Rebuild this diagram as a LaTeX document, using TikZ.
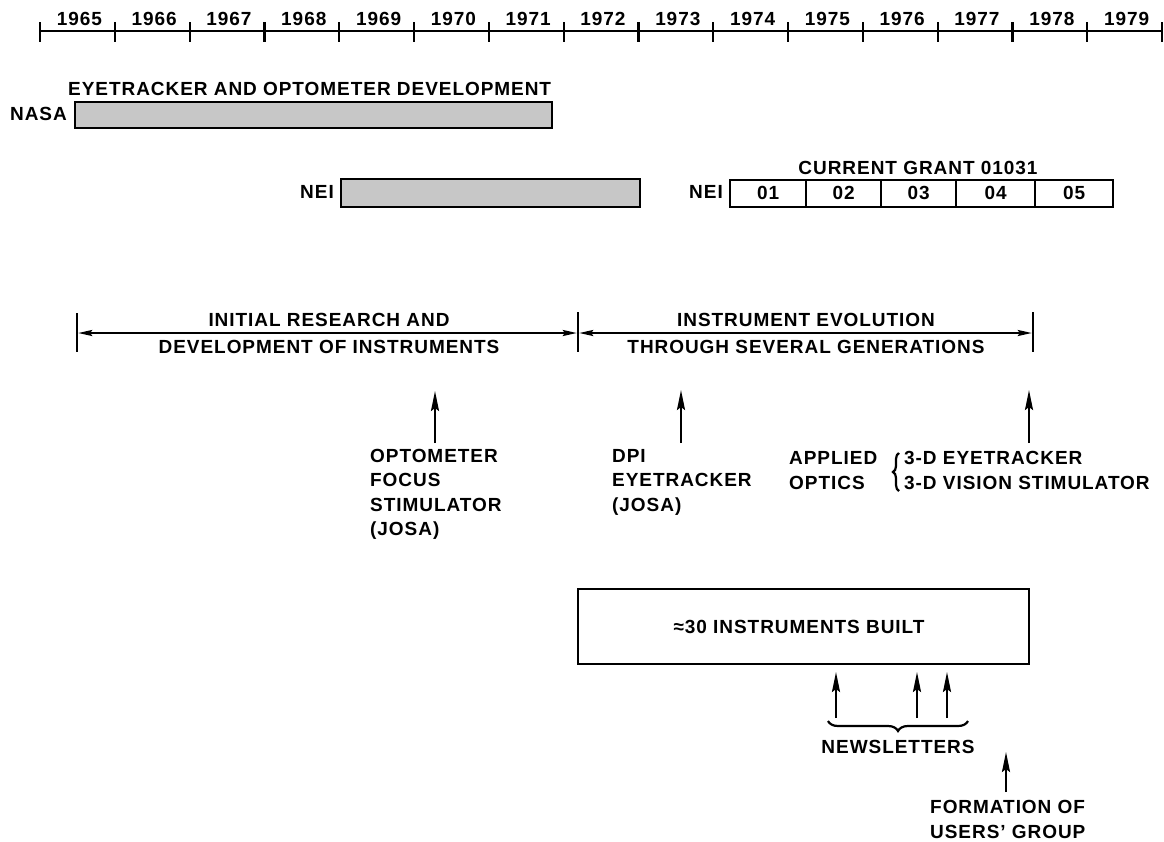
\documentclass[tikz,border=0pt]{standalone}
\usepackage{fontspec}
\setmainfont[LetterSpace=5]{Liberation Sans}
\usetikzlibrary{arrows.meta,decorations.pathreplacing}
\begin{document}
\begin{tikzpicture}[x=1pt,y=-1pt,
  every node/.style={font=\fontsize{19}{24.5}\selectfont\bfseries, inner sep=0pt},
  lbl/.style={anchor=base},
  lblw/.style={anchor=base west, align=left},
  lble/.style={anchor=base east},
  axis/.style={line width=2.6pt},
  tickmark/.style={line width=2.2pt},
  bar/.style={draw, line width=2.2pt, fill=black!22, minimum height=26pt, anchor=north west},
  cell/.style={draw, line width=2.2pt, minimum height=27pt, anchor=north west},
  bigbox/.style={draw, line width=2.4pt, anchor=north west},
  rangeline/.style={line width=2pt, {Stealth[length=14pt,width=6pt,inset=2pt]}-{Stealth[length=14pt,width=6pt,inset=2pt]}},
  uparrow/.style={line width=2.2pt, -{Stealth[length=20pt,width=8pt,inset=3pt]}},
  bracedec/.style={line width=2.2pt, decorate, decoration={brace, amplitude=#1}}
]
\useasboundingbox (0,0) rectangle (1164,841);
% timeline
\coordinate (tl0) at (40,31);
\coordinate (tl1) at (1162,31);
\draw[axis] (tl0) -- (tl1);
\foreach \i in {0,...,15} {
  \coordinate (tk\i) at ({40+74.8*\i},31);
  \draw[tickmark] ([yshift=9pt]tk\i) -- ([yshift=-11pt]tk\i);
}
\foreach \i/\yr in {0/1965,1/1966,2/1967,3/1968,4/1969,5/1970,6/1971,7/1972,8/1973,9/1974,10/1975,11/1976,12/1977,13/1978,14/1979} {
  \node[lbl] (yr\yr) at ({40+74.8*\i+37.4+2},25) {\yr};
}
% NASA bar
\node[lblw] (nasatitle) at (68,95) {EYETRACKER AND OPTOMETER DEVELOPMENT};
\node[lble] (nasalbl) at (67,120) {NASA};
\node[bar, minimum width=477pt] (nasabar) at (74,101) {};
% NEI bar
\node[lble] (nei1lbl) at (334,198) {NEI};
\node[bar, minimum width=299pt, minimum height=28pt] (nei1bar) at (340,178) {};
% current grant
\node[lbl] (granttitle) at (918,174) {CURRENT GRANT 01031};
\node[lble] (nei2lbl) at (723,198) {NEI};
\node[cell, minimum width=76pt] (c01) at (729,179) {};
\node[cell, minimum width=75pt] (c02) at (805,179) {};
\node[cell, minimum width=75pt] (c03) at (880,179) {};
\node[cell, minimum width=79pt] (c04) at (955,179) {};
\node[cell, minimum width=78pt] (c05) at (1034,179) {};
\node[lbl] (n01) at ([yshift=-20pt]c01.north) {01};
\node[lbl] (n02) at ([yshift=-20pt]c02.north) {02};
\node[lbl] (n03) at ([yshift=-20pt]c03.north) {03};
\node[lbl] (n04) at ([yshift=-20pt]c04.north) {04};
\node[lbl] (n05) at ([yshift=-20pt]c05.north) {05};
% ranges
\coordinate (ra) at (77,333);
\coordinate (rb) at (578,333);
\coordinate (rc) at (1033,333);
\draw[tickmark] (77,313) -- (77,352);
\draw[tickmark] (578,312) -- (578,352);
\draw[tickmark] (1033,312) -- (1033,352);
\draw[rangeline] ([xshift=1.2pt]ra) -- ([xshift=-1.2pt]rb);
\draw[rangeline] ([xshift=1.2pt]rb) -- ([xshift=-1.2pt]rc);
\node[lbl] (r1a) at (329,326) {INITIAL RESEARCH AND};
\node[lbl] (r1b) at (329,353) {DEVELOPMENT OF INSTRUMENTS};
\node[lbl] (r2a) at (806,326) {INSTRUMENT EVOLUTION};
\node[lbl] (r2b) at (806,353) {THROUGH SEVERAL GENERATIONS};
% publications (base = last line's baseline)
\node[lblw] (opto) at (370,535.5) {OPTOMETER\\FOCUS\\STIMULATOR\\(JOSA)};
\coordinate (optoA) at (435,443);
\coordinate (optoB) at (435,391);
\draw[uparrow] (optoA) -- (optoB);
\node[lblw] (dpi) at (612,511) {DPI\\EYETRACKER\\(JOSA)};
\coordinate (dpiA) at (681,443);
\coordinate (dpiB) at (681,390);
\draw[uparrow] (dpiA) -- (dpiB);
\node[lblw] (appl) at (789,489) {APPLIED\\OPTICS};
\node[lblw] (threed) at (904,489) {3-D EYETRACKER\\3-D VISION STIMULATOR};
\coordinate (brA) at (899,491);
\coordinate (brB) at (899,453);
\draw[bracedec=6pt] (brA) -- (brB);
\coordinate (tdA) at (1029,443);
\coordinate (tdB) at (1029,390);
\draw[uparrow] (tdA) -- (tdB);
% instruments box
\node[bigbox, minimum width=451pt, minimum height=75pt] (box) at (577,588) {};
\node[lbl] (boxtxt) at (799,633) {≈30 INSTRUMENTS BUILT};
% newsletters
\coordinate (nl1) at (836,672);
\coordinate (nl2) at (917,672);
\coordinate (nl3) at (947,672);
\draw[uparrow] (836,718) -- (nl1);
\draw[uparrow] (917,718) -- (nl2);
\draw[uparrow] (947,718) -- (nl3);
\coordinate (bnA) at (968,721);
\coordinate (bnB) at (828,721);
\draw[bracedec=10pt] (bnA) -- (bnB);
\node[lbl] (news) at (898,753) {NEWSLETTERS};
% users group
\coordinate (ugA) at (1006,792);
\coordinate (ugB) at (1006,752);
\draw[uparrow] (ugA) -- (ugB);
\node[lblw] (users) at (930,838) {FORMATION OF\\USERS' GROUP};
\end{tikzpicture}
\end{document}
